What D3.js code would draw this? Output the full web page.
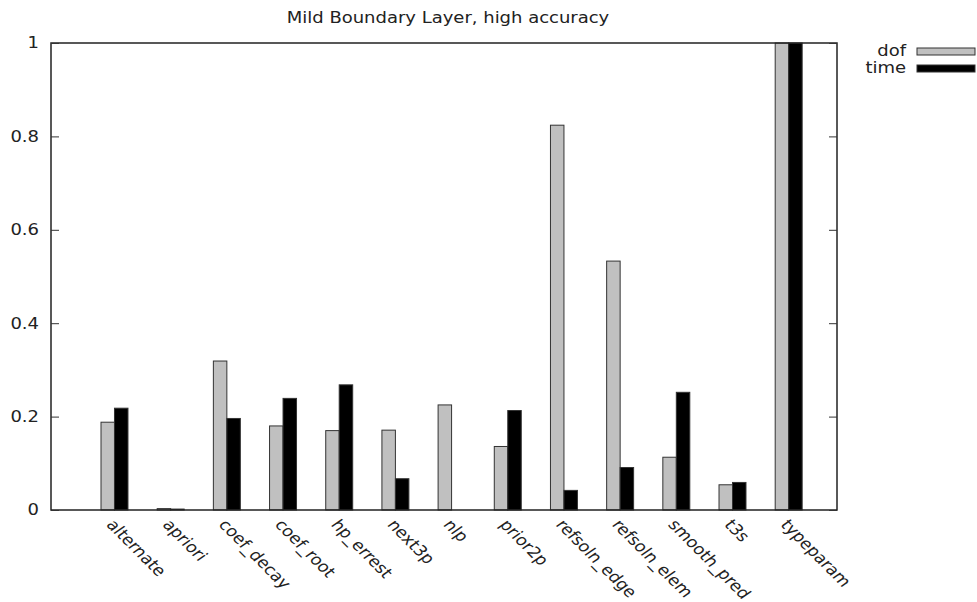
<!DOCTYPE html>
<html>
<head>
<meta charset="utf-8">
<script src="https://cdn.jsdelivr.net/npm/d3@7"></script>
<style>
  body { margin: 0; background: #fff; }
  text { font-family: 'DejaVu Sans', sans-serif; fill: #222; }
</style>
</head>
<body>
<div id="graf"></div>
<script>
// datos
categorias = ['alternate', 'apriori', 'coef_decay', 'coef_root', 'hp_errest', 'next3p', 'nlp',
              'prior2p', 'refsoln_edge', 'refsoln_elem', 'smooth_pred', 't3s', 'typeparam']
dof  = [0.188, 0.003, 0.319, 0.180, 0.170, 0.171, 0.225, 0.136, 0.824, 0.533, 0.113, 0.054, 1.0]
time = [0.218, 0.002, 0.196, 0.239, 0.268, 0.067, 0.0,   0.213, 0.042, 0.091, 0.252, 0.059, 1.0]
yTicks = [0, 0.2, 0.4, 0.6, 0.8, 1]
series = ['dof', 'time']
titulo = 'Mild Boundary Layer, high accuracy'

ancho_total = 977
alto_total = 602
margins = { top: 43, left: 51, right: 140, bottom: 92 }
ancho = ancho_total - margins.left - margins.right
alto = alto_total - margins.top - margins.bottom

colores = { dof: '#c0c0c0', time: '#000000' }
estirar = 1.2   // el texto original se ve estirado a lo ancho
fs = '15px'

svg = d3.select('#graf').append('svg')
  .attr('width', ancho_total)
  .attr('height', alto_total)

g = svg.append('g')
  .attr('transform', `translate(${margins.left}, ${margins.top})`)

// Escaladores
x = d3.scaleLinear().domain([-1.13, 12.86]).range([0, ancho])
y = d3.scaleLinear().domain([0, 1]).range([alto, 0])
bw = x(0.24) - x(0)

// titulo
svg.append('text')
  .attr('transform', `translate(448, 23) scale(${estirar},1)`)
  .attr('text-anchor', 'middle')
  .attr('font-size', fs)
  .text(titulo)

// barras
datos = categorias.map((c, i) => ({ cat: c, i: i, dof: dof[i], time: time[i] }))

series.forEach((s, k) => {
  g.selectAll('.bar-' + s)
    .data(datos)
    .enter()
    .append('rect')
      .attr('x', d => x(d.i) + (k - 1) * bw)
      .attr('y', d => y(d[s]))
      .attr('width', bw)
      .attr('height', d => alto - y(d[s]))
      .attr('fill', colores[s])
      .attr('stroke', '#333')
      .attr('stroke-width', 1)
})

// marco
g.append('rect')
  .attr('x', 0)
  .attr('y', 0)
  .attr('width', ancho)
  .attr('height', alto)
  .attr('fill', 'none')
  .attr('stroke', '#222')
  .attr('stroke-width', 1.5)

// ejes
yAxis = d3.axisLeft(y).tickValues(yTicks).tickFormat(d => d3.format('')(d)).tickSize(-8).tickPadding(12)
yAxisR = d3.axisRight(y).tickValues(yTicks).tickFormat('').tickSize(-8)

ejeY = g.append('g').call(yAxis)
ejeY.select('.domain').remove()
ejeY.selectAll('line').attr('stroke', '#333')
ejeY.selectAll('text')
  .attr('font-size', fs)
  .attr('font-family', "'DejaVu Sans', sans-serif")
  .attr('fill', '#222')
  .attr('x', -12 / estirar)
  .attr('transform', `scale(${estirar},1)`)

ejeYR = g.append('g').attr('transform', `translate(${ancho},0)`).call(yAxisR)
ejeYR.select('.domain').remove()
ejeYR.selectAll('line').attr('stroke', '#333')

// etiquetas x (rotadas y estiradas)
ang = Math.atan(estirar) * 180 / Math.PI
g.selectAll('.xlab')
  .data(datos)
  .enter()
  .append('text')
    .attr('transform', d => `translate(${x(d.i) - 9}, ${alto + 15}) scale(${estirar},1) rotate(${ang})`)
    .attr('font-size', fs)
    .text(d => d.cat)

// leyenda
leyenda = svg.append('g')
series.forEach((s, k) => {
  ly = 51 + k * 17
  leyenda.append('text')
    .attr('transform', `translate(906, ${ly + 5}) scale(${estirar},1)`)
    .attr('text-anchor', 'end')
    .attr('font-size', fs)
    .text(s)
  leyenda.append('rect')
    .attr('x', 917)
    .attr('y', ly - 3)
    .attr('width', 58)
    .attr('height', 7)
    .attr('fill', colores[s])
    .attr('stroke', '#333')
})
</script>
</body>
</html>
